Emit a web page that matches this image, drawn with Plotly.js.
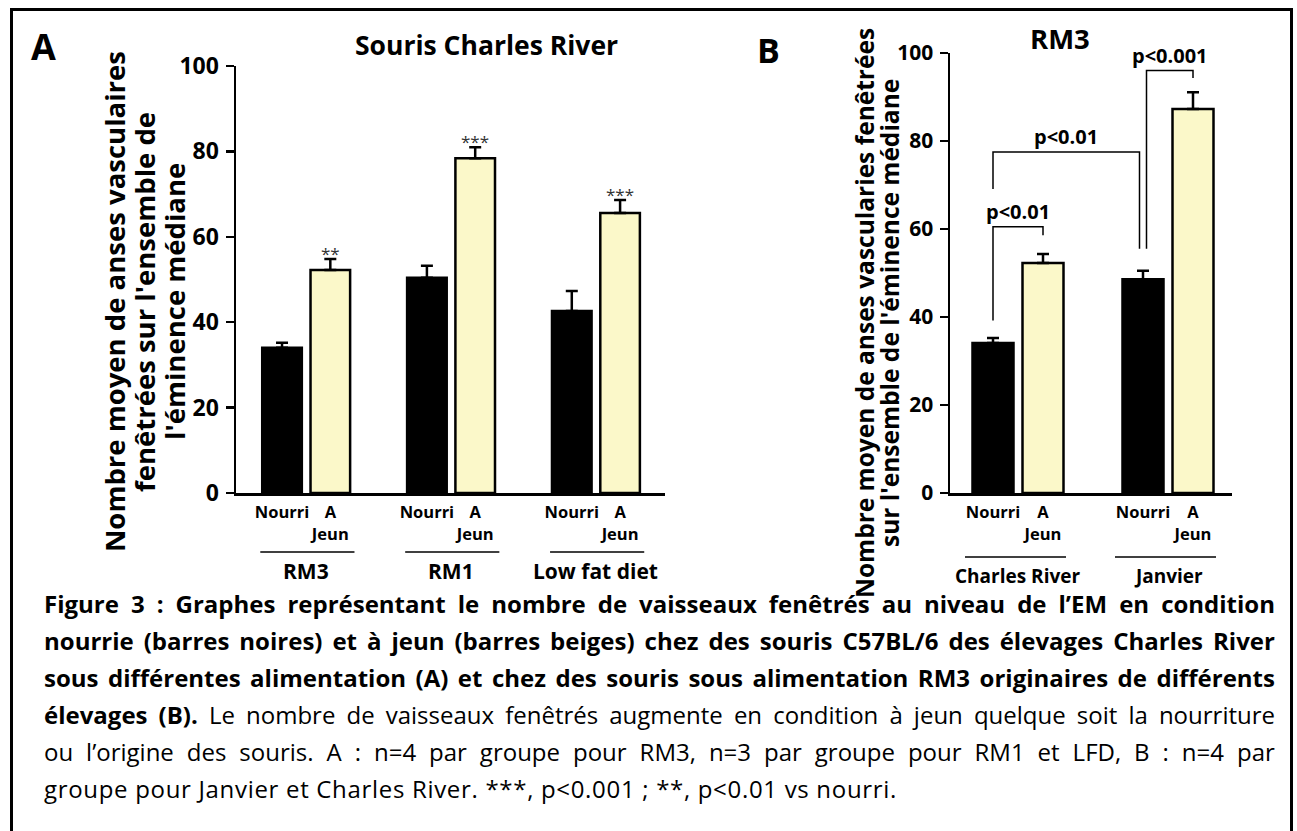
<!DOCTYPE html>
<html>
<head>
<meta charset="utf-8">
<script src="https://cdn.plot.ly/plotly-3.0.1.min.js"></script>
<style>
  html, body { margin: 0; padding: 0; background: #ffffff; }
  #chart { width: 1297px; height: 831px; }
</style>
</head>
<body>
<div id="chart"></div>
<script>
// ---------------- DATA ----------------
const groupsA = ["RM3", "RM1", "Low fat diet"];
const nourriA = [34.0, 50.4, 42.6];
const nourriErrA = [1.2, 2.8, 4.7];
const jeunA = [52.2, 78.4, 65.6];
const jeunErrA = [2.6, 2.6, 3.0];
const starsA = ["**", "***", "***"];

const groupsB = ["Charles River", "Janvier"];
const nourriB = [34.1, 48.6];
const nourriErrB = [1.1, 1.9];
const jeunB = [52.3, 87.3];
const jeunErrB = [2.0, 3.8];
const bracketLabels = ["p<0.01", "p<0.01", "p<0.001"];

const barLabels = ["Nourri", "A<br>Jeun"];
const yTicks = [0, 20, 40, 60, 80, 100];

const titleA = "Souris Charles River";
const titleB = "RM3";
const yTitleA = ["Nombre moyen de anses vasculaires", "fenêtrées sur l'ensemble de", "l'éminence médiane"];
const yTitleB = ["Nombre moyen de anses vascularies fenêtrées", "sur l'ensemble de l'éminence médiane"];
const captionLines = [
  "<b>Figure 3 : Graphes représentant le nombre de vaisseaux fenêtrés au niveau de l’EM en condition</b>",
  "<b>nourrie (barres noires) et à jeun (barres beiges) chez des souris C57BL/6 des élevages Charles River</b>",
  "<b>sous différentes alimentation (A) et chez des souris sous alimentation RM3 originaires de différents</b>",
  "<b>élevages (B).</b> Le nombre de vaisseaux fenêtrés augmente en condition à jeun quelque soit la nourriture",
  "ou l’origine des souris. A : n=4 par groupe pour RM3, n=3 par groupe pour RM1 et LFD, B : n=4 par",
  "groupe pour Janvier et Charles River. ***, p<0.001 ; **, p<0.01 vs nourri."
];

// ---------------- HELPERS ----------------
const W = 1297, H = 831;
const px = v => v / W;
const py = v => 1 - v / H;
const CHART_FONT = "Open Sans";
const TEXT_FONT = "Open Sans";
const YELLOW = "#FBF8C9";

const posNourriA = groupsA.map((g, i) => 3 * i);
const posJeunA = groupsA.map((g, i) => 3 * i + 1);
const posNourriB = groupsB.map((g, i) => 3 * i);
const posJeunB = groupsB.map((g, i) => 3 * i + 1);

function errBar(arr) {
  return {type: "data", symmetric: false, array: arr, arrayminus: arr.map(() => 0),
          color: "#000", thickness: 2.5, width: 6};
}
function barTrace(x, y, err, color, xa, ya, name) {
  return {type: "bar", x: x, y: y, name: name, xaxis: xa, yaxis: ya, width: 0.82,
          marker: {color: color, line: {color: "#000", width: 2.5}},
          error_y: errBar(err), hoverinfo: "skip", showlegend: false};
}

const data = [
  barTrace(posNourriA, nourriA, nourriErrA, "#000", "x", "y", "Nourri"),
  barTrace(posJeunA, jeunA, jeunErrA, YELLOW, "x", "y", "A Jeun"),
  barTrace(posNourriB, nourriB, nourriErrB, "#000", "x2", "y2", "Nourri"),
  barTrace(posJeunB, jeunB, jeunErrB, YELLOW, "x2", "y2", "A Jeun")
];

const tickValsA = [], tickTextA = [];
groupsA.forEach((g, i) => { tickValsA.push(3 * i, 3 * i + 1); tickTextA.push(barLabels[0], barLabels[1]); });
const tickValsB = [], tickTextB = [];
groupsB.forEach((g, i) => { tickValsB.push(3 * i, 3 * i + 1); tickTextB.push(barLabels[0], barLabels[1]); });

function xAxis(domain, range, vals, text, anchor) {
  return {domain: domain, range: range, anchor: anchor, showline: true, linecolor: "#000", linewidth: 2.5,
          tickvals: vals, ticktext: text, ticks: "", tickangle: 0, showgrid: false, zeroline: false,
          ticklabelstandoff: 3,
          tickfont: {family: CHART_FONT, size: 16.5, weight: 700, color: "#000"}, fixedrange: true};
}
function yAxis(domain, anchor, size) {
  return {domain: domain, range: [0, 100], anchor: anchor, showline: true, linecolor: "#000", linewidth: 2.5,
          tickvals: yTicks, ticks: "outside", ticklen: 8, tickwidth: 2.5, tickcolor: "#000",
          showgrid: false, zeroline: false, ticklabelstandoff: 2,
          tickfont: {family: CHART_FONT, size: size, weight: 700, color: "#000"}, fixedrange: true};
}

const shapes = [];
const annotations = [];

// outer frame
shapes.push({type: "rect", xref: "paper", yref: "paper", x0: px(11.5), x1: px(1291.5), y0: -0.05, y1: py(9.5),
             line: {color: "#000", width: 3}, fillcolor: "rgba(0,0,0,0)"});

// group underlines + labels
groupsA.forEach((g, i) => {
  shapes.push({type: "line", xref: "x", yref: "paper", x0: 3 * i - 0.45, x1: 3 * i + 1.5, y0: py(552), y1: py(552),
               line: {color: "#000", width: 1.5}});
  annotations.push({xref: "x", yref: "paper", x: 3 * i + 0.5, y: py(571), text: g, showarrow: false,
                    xanchor: "center", yanchor: "middle",
                    font: {family: CHART_FONT, size: 21, weight: 700, color: "#000"}});
});
groupsB.forEach((g, i) => {
  shapes.push({type: "line", xref: "x2", yref: "paper", x0: 3 * i - 0.56, x1: 3 * i + 1.46, y0: py(557), y1: py(557),
               line: {color: "#000", width: 1.5}});
  annotations.push({xref: "x2", yref: "paper", x: 3 * i + 0.5, y: py(576), text: g, showarrow: false,
                    xanchor: "center", yanchor: "middle",
                    font: {family: CHART_FONT, size: 19, weight: 700, color: "#000"}});
});

// significance stars (panel A)
starsA.forEach((s, i) => {
  annotations.push({xref: "x", yref: "y", x: posJeunA[i], y: jeunA[i] + jeunErrA[i], text: s, showarrow: false,
                    xanchor: "center", yanchor: "bottom", yshift: -8,
                    font: {family: CHART_FONT, size: 17, color: "#333"}});
});

// brackets (panel B)
const capN = nourriB.map((v, i) => v + nourriErrB[i]);
const capJ = jeunB.map((v, i) => v + jeunErrB[i]);
const brackets = [
  {x0: posNourriB[0], x1: posJeunB[0], b0: capN[0] + 4, b1: capJ[0] + 4.3, top: 60.5},
  {x0: posNourriB[0], x1: posNourriB[1] - 0.07, b0: 69.1, b1: capN[1] + 5, top: 77.5},
  {x0: posNourriB[1] + 0.07, x1: posJeunB[1], b0: capN[1] + 5, b1: capJ[1] + 3.2, top: 96}
];
brackets.forEach((b, i) => {
  shapes.push({type: "path", xref: "x2", yref: "y2",
               path: `M ${b.x0} ${b.b0} L ${b.x0} ${b.top} L ${b.x1} ${b.top} L ${b.x1} ${b.b1}`,
               line: {color: "#000", width: 1.5}});
  annotations.push({xref: "x2", yref: "y2", x: (b.x0 + b.x1) / 2, y: b.top, text: bracketLabels[i], showarrow: false,
                    xanchor: "center", yanchor: "bottom", yshift: 0,
                    font: {family: CHART_FONT, size: 20, weight: 700, color: "#000"}});
});

// titles & panel letters
annotations.push({xref: "paper", yref: "paper", x: px(486), y: py(45), text: titleA, showarrow: false,
                  xanchor: "center", yanchor: "middle", font: {family: TEXT_FONT, size: 26.5, weight: 700, color: "#000"}});
annotations.push({xref: "paper", yref: "paper", x: px(1060), y: py(38), text: titleB, showarrow: false,
                  xanchor: "center", yanchor: "middle", font: {family: TEXT_FONT, size: 27.5, weight: 700, color: "#000"}});
annotations.push({xref: "paper", yref: "paper", x: px(43), y: py(47), text: "A", showarrow: false,
                  xanchor: "center", yanchor: "middle", font: {family: TEXT_FONT, size: 36, weight: 700, color: "#000"}});
annotations.push({xref: "paper", yref: "paper", x: px(768), y: py(50), text: "B", showarrow: false,
                  xanchor: "center", yanchor: "middle", font: {family: TEXT_FONT, size: 34, weight: 700, color: "#000"}});

// y titles (one annotation per line, tight spacing)
const yTitleAx = [114, 144, 174];
yTitleA.forEach((t, i) => {
  annotations.push({xref: "paper", yref: "paper", x: px(yTitleAx[i]), y: py(302), text: t, showarrow: false,
                    textangle: -90, xanchor: "center", yanchor: "middle",
                    font: {family: CHART_FONT, size: 27.5, weight: 700, color: "#000"}});
});
const yTitleBx = [864, 889];
yTitleB.forEach((t, i) => {
  annotations.push({xref: "paper", yref: "paper", x: px(yTitleBx[i]), y: py(313), text: t, showarrow: false,
                    textangle: -90, xanchor: "center", yanchor: "middle",
                    font: {family: CHART_FONT, size: 24.5, weight: 700, color: "#000"}});
});

// caption
const capLeft = 42, capRight = 1273, lastLineWidth = 853;
const captionStart = annotations.length;
captionLines.forEach((t, i) => {
  annotations.push({xref: "paper", yref: "paper", x: px(capLeft), y: py(603 + 37 * i), text: t, showarrow: false,
                    xanchor: "left", yanchor: "middle", align: "left",
                    font: {family: TEXT_FONT, size: 24, color: "#000"}});
});

const layout = {
  width: W, height: H,
  margin: {l: 0, r: 0, t: 0, b: 0},
  paper_bgcolor: "#ffffff", plot_bgcolor: "rgba(0,0,0,0)",
  barmode: "overlay", showlegend: false,
  xaxis: xAxis([px(236), px(665)], [-0.953, 7.93], tickValsA, tickTextA, "y"),
  yaxis: yAxis([py(493), py(66)], "x", 23),
  xaxis2: xAxis([px(950), px(1232)], [-0.86, 4.78], tickValsB, tickTextB, "y2"),
  yaxis2: yAxis([py(493), py(53)], "x2", 21),
  shapes: shapes,
  annotations: annotations
};

function stretch(el, target, useWords) {
  const w0 = el.getBoundingClientRect().width;
  const n = useWords ? (el.textContent.match(/ /g) || []).length : el.textContent.length;
  if (!n) return;
  const prop = useWords ? "wordSpacing" : "letterSpacing";
  el.style[prop] = ((target - w0) / n) + "px";
  const w1 = el.getBoundingClientRect().width;
  if (Math.abs(w1 - target) > 6) {
    el.style[prop] = "";
    el.setAttribute("textLength", target);
    el.setAttribute("lengthAdjust", "spacing");
  }
}

Plotly.newPlot("chart", data, layout, {staticPlot: true, displayModeBar: false}).then(gd => {
  // justified paragraph: lines 1-5 span the text width, last line keeps its natural (slightly wide) set
  for (let i = 0; i < captionLines.length; i++) {
    const el = gd.querySelector('g.annotation[data-index="' + (captionStart + i) + '"] text.annotation-text');
    if (!el) continue;
    if (i < captionLines.length - 1) stretch(el, capRight - capLeft, true);
    else stretch(el, lastLineWidth, false);
  }
});
</script>
</body>
</html>
